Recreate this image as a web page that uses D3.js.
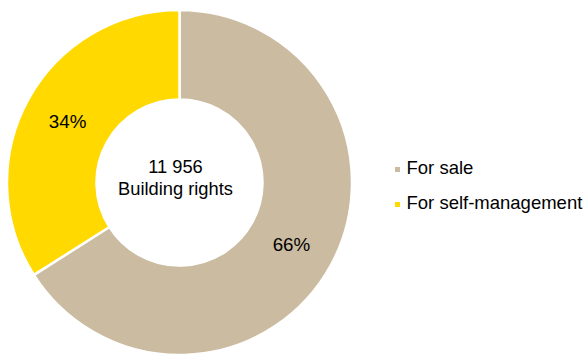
<!DOCTYPE html>
<html>
<head>
<meta charset="utf-8">
<script src="https://cdn.jsdelivr.net/npm/d3@7"></script>
<style>
  html, body { margin: 0; padding: 0; background: #fff; }
  svg { display: block; font-family: "Liberation Sans", Arial, sans-serif; }
</style>
</head>
<body>
<svg id="chart" width="585" height="354"></svg>
<script>
// Building rights split by intended use
const categories = ["For sale", "For self-management"];
const shares = [66, 34];
const colors = ["#CABBA1", "#FFD900"];
const totalLabel = ["11 956", "Building rights"];

const svg = d3.select("#chart");
const cx = 179.5, cy = 182.5;
const outerR = 172.5, innerR = 83;

const color = d3.scaleOrdinal().domain(categories).range(colors);

const pie = d3.pie().sort(null).value(d => d.value);
const data = categories.map((c, i) => ({ name: c, value: shares[i] }));
const arcs = pie(data);

const arc = d3.arc().innerRadius(innerR).outerRadius(outerR);

const g = svg.append("g").attr("transform", `translate(${cx},${cy})`);

g.selectAll("path.slice")
  .data(arcs)
  .join("path")
  .attr("class", "slice")
  .attr("d", arc)
  .attr("fill", d => color(d.data.name))
  .attr("stroke", "#fff")
  .attr("stroke-width", 2.5)
  .attr("stroke-linejoin", "miter");

g.selectAll("text.pct")
  .data(arcs)
  .join("text")
  .attr("class", "pct")
  .attr("transform", d => `translate(${arc.centroid(d)})`)
  .attr("text-anchor", "middle")
  .attr("dy", "0.36em")
  .attr("font-size", "18.8px")
  .attr("fill", "#000")
  .text(d => d.data.value + "%");

// centre caption
g.selectAll("text.total")
  .data(totalLabel)
  .join("text")
  .attr("class", "total")
  .attr("x", -4)
  .attr("y", (d, i) => -9.5 + i * 21.5)
  .attr("text-anchor", "middle")
  .attr("font-size", "18.3px")
  .attr("fill", "#000")
  .text(d => d);

// legend
const legend = svg.append("g").attr("transform", "translate(395,173.5)");
const item = legend.selectAll("g.item")
  .data(categories)
  .join("g")
  .attr("class", "item")
  .attr("transform", (d, i) => `translate(0,${i * 35})`);

item.append("rect")
  .attr("x", 0)
  .attr("y", -6.5)
  .attr("width", 5)
  .attr("height", 5)
  .attr("fill", d => color(d));

item.append("text")
  .attr("x", 11.5)
  .attr("y", 0)
  .attr("font-size", "18.5px")
  .attr("fill", "#000")
  .text(d => d);
</script>
</body>
</html>
